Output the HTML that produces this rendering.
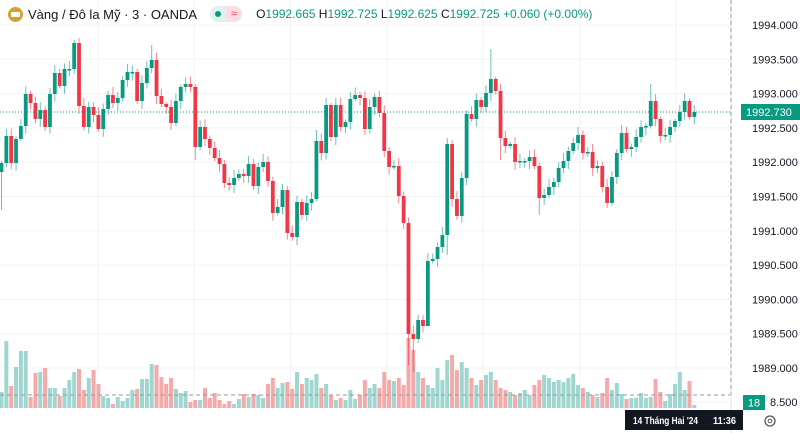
<!DOCTYPE html>
<html><head><meta charset="utf-8"><style>
html,body{margin:0;padding:0;background:#fff;}
body{width:800px;height:433px;overflow:hidden;position:relative;font-family:"Liberation Sans",sans-serif;}
svg{position:absolute;left:0;top:0;}
.hdr{position:absolute;left:0;top:4px;height:20px;display:flex;align-items:center;font-size:13px;color:#131722;white-space:nowrap;}
</style></head><body>
<svg id="s" width="800" height="433"></svg>
<div class="hdr">
 <div style="width:15px;height:15px;border-radius:50%;background:#d9a12b;margin-left:8px;margin-right:5px;position:relative"><div style="position:absolute;left:3px;top:5px;width:9px;height:5px;background:#fff;border-radius:1px"></div></div>
 <span>Vàng / Đô la Mỹ · 3 · OANDA</span>
 <div style="margin-left:13px;display:flex;height:16px;border-radius:8px;overflow:hidden">
  <div style="width:16px;background:#e0f2ef;position:relative"><div style="position:absolute;left:5px;top:5px;width:6px;height:6px;border-radius:50%;background:#089981"></div></div>
  <div style="width:16px;background:#fbdde2;color:#f23645;font-size:11px;line-height:16px;text-align:center">≈</div>
 </div>
 <span style="margin-left:14px;font-size:12px">O<span style="color:#089981">1992.665</span> H<span style="color:#089981">1992.725</span> L<span style="color:#089981">1992.625</span> C<span style="color:#089981">1992.725</span> <span style="color:#089981">+0.060 (+0.00%)</span></span>
</div>
<script>
const C=[163,136,163,139,126,94,103,119,110,127,94,73,86,69,69,43,106,127,107,115,129,109,95,103,98,80,72,72,101,83,68,60,96,104,107,123,101,87,84,87,147,127,139,148,158,164,183,185,178,174,176,164,186,167,162,181,213,207,190,233,237,202,215,203,199,141,153,105,137,105,127,122,99,95,98,129,107,97,113,151,167,166,196,223,334,339,320,326,261,259,247,235,144,199,216,178,114,119,100,107,93,79,91,138,146,144,162,161,161,157,166,198,195,187,182,168,161,151,143,135,153,152,168,166,187,203,177,153,133,149,147,137,127,126,101,119,136,135,127,121,112,101,117,112];
const V=[392,341,386,367,351,351,397,373,372,368,388,388,396,388,380,372,369,390,378,370,384,396,398,404,397,401,398,390,389,379,379,364,365,377,384,378,389,393,391,402,400,400,388,398,393,400,404,401,404,399,394,397,394,395,398,384,378,388,383,382,389,372,384,378,380,374,388,384,395,400,398,400,390,399,395,380,388,384,388,372,380,381,378,385,338,350,372,378,385,388,368,380,360,355,370,362,368,378,385,380,375,372,380,388,390,392,395,393,390,395,385,380,375,378,382,380,382,378,374,385,388,392,395,397,393,378,390,383,394,399,398,398,393,398,397,379,392,401,394,384,372,390,381,405];
const hiX={0:[0,210],31:[45,0],84:[0,365],85:[0,372],101:[49,0],134:[84,0],15:[40,0],88:[0,300],65:[130,0],92:[0,255],40:[0,160],103:[0,160],111:[0,215],125:[0,208]};
let s='';
for(let y=25;y<410;y+=34.3)s+=`<line x1="0" x2="730" y1="${y}" y2="${y}" stroke="#f2f3f5"/>`;
[98,194,290.5,387,483,580,676].forEach(x=>s+=`<line x1="${x}" x2="${x}" y1="0" y2="410" stroke="#f2f3f5"/>`);
const G='#089981',R='#f23645';
for(let i=0;i<C.length;i++){const x=1.5+i*4.845;const o=i?C[i-1]:172;const up=C[i]<=o;
s+=`<rect x="${x-2}" y="${V[i]}" width="4" height="${408-V[i]}" fill="${up?'#9fd6cf':'#f5a9a9'}"/>`;}
s+=`<line x1="0" x2="730" y1="395" y2="395" stroke="#9598a1" stroke-dasharray="4,3"/>`;
for(let i=0;i<C.length;i++){const x=1.5+i*4.845;const o=i?C[i-1]:172;const c=C[i];const up=c<=o;const col=up?G:R;
let t=Math.min(o,c),b=Math.max(o,c);if(b-t<1.5){b=t+1.5;}
let h=t-(2+Math.abs(Math.sin(i*7.3))*6),l=b+(2+Math.abs(Math.cos(i*5.1))*6);
if(hiX[i]){if(hiX[i][0])h=hiX[i][0];if(hiX[i][1])l=hiX[i][1];}
s+=`<line x1="${x}" x2="${x}" y1="${h}" y2="${l}" stroke="${col}" stroke-opacity="0.6"/>`;
s+=`<rect x="${x-1.9}" y="${t}" width="3.8" height="${b-t}" fill="${col}"/>`;}
s+=`<line x1="0" x2="730" y1="112" y2="112" stroke="${G}" stroke-dasharray="1,2"/>`;
s+=`<line x1="731" x2="731" y1="0" y2="433" stroke="#e0e3eb"/>`;
s+=`<line x1="731" x2="731" y1="0" y2="395" stroke="#9598a1" stroke-dasharray="4,3"/>`;
const labs=['1994.000','1993.500','1993.000','1992.500','1992.000','1991.500','1991.000','1990.500','1990.000','1989.500','1989.000'];
labs.forEach((t,k)=>s+=`<text x="752" y="${25+k*34.3+4}" font-size="11" fill="#131722" font-family="Liberation Sans">${t}</text>`);
s+=`<text x="770" y="406" font-size="11" fill="#131722" font-family="Liberation Sans">8.500</text>`;
s+=`<rect x="743" y="395" width="22" height="15" fill="${G}"/><text x="754" y="406.5" font-size="11" fill="#fff" text-anchor="middle" font-family="Liberation Sans">18</text>`;
s+=`<rect x="741" y="104" width="59" height="16" fill="${G}"/><text x="746" y="116" font-size="11" fill="#fff" font-family="Liberation Sans">1992.730</text>`;
s+=`<rect x="625" y="410" width="118" height="20" fill="#131722"/><text x="633" y="424" font-size="10.5" font-weight="bold" fill="#fff" font-family="Liberation Sans" textLength="65" lengthAdjust="spacingAndGlyphs">14 Tháng Hai '24</text><text x="713" y="424" font-size="10.5" font-weight="bold" fill="#fff" font-family="Liberation Sans" textLength="23" lengthAdjust="spacingAndGlyphs">11:36</text>`;
s+=`<circle cx="770" cy="421" r="5" fill="none" stroke="#555" stroke-width="1.3"/><circle cx="770" cy="421" r="1.8" fill="none" stroke="#555"/>`;
document.getElementById('s').innerHTML=s;
</script>
</body></html>
